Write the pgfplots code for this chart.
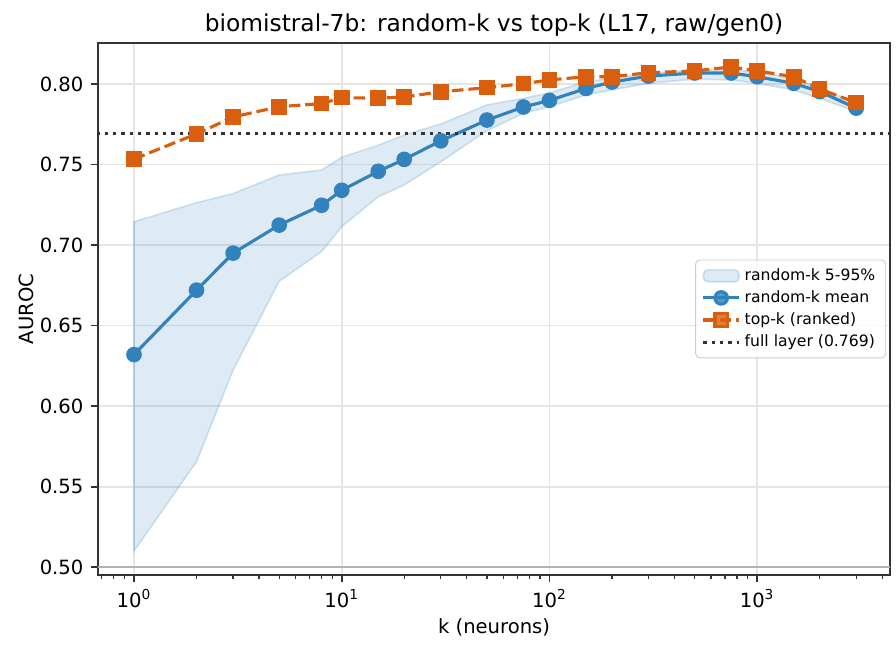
\documentclass[border=0pt]{standalone}
\usepackage{fontspec}
\setmainfont{DejaVu Sans}
\usepackage{pgfplots}
\pgfplotsset{compat=1.18}
\usepackage{pgfplotstable}

\definecolor{meanblue}{RGB}{49,130,189}
\definecolor{topkorange}{RGB}{217,95,14}
\definecolor{spine}{RGB}{51,51,51}
\definecolor{gridgray}{RGB}{229,229,229}

% k, random-k mean, ranked top-k
\pgfplotstableread{
k     mean    top
1     0.6320  0.7534
2     0.6720  0.7690
3     0.6950  0.7795
5     0.7124  0.7859
8     0.7247  0.7878
10    0.7340  0.7915
15    0.7458  0.7912
20    0.7532  0.7919
30    0.7647  0.7952
50    0.7776  0.7977
75    0.7857  0.8002
100   0.7898  0.8025
150   0.7972  0.8045
200   0.8012  0.8045
300   0.8049  0.8070
500   0.8068  0.8081
750   0.8068  0.8106
1000  0.8045  0.8081
1500  0.8004  0.8045
2000  0.7953  0.7969
3000  0.7850  0.7884
}\curves

\begin{document}
\begin{tikzpicture}
\begin{axis}[
  scale only axis,
  width=380.2pt, height=255.4pt,
  xmode=log, log basis x=10,
  xmin=0.671, xmax=4365,
  ymin=0.4952, ymax=0.8255,
  xtick={1,10,100,1000},
  minor xtick={0.7,0.8,0.9,2,3,4,5,6,7,8,9,20,30,40,50,60,70,80,90,
               200,300,400,500,600,700,800,900,2000,3000,4000},
  xticklabels={10\textsuperscript{0},10\textsuperscript{1},10\textsuperscript{2},10\textsuperscript{3}},
  ytick={0.50,0.55,0.60,0.65,0.70,0.75,0.80},
  yticklabel style={/pgf/number format/fixed,/pgf/number format/fixed zerofill,/pgf/number format/precision=2},
  /pgf/number format/assume math mode=true,
  tick label style={font=\fontsize{9.4}{11}\selectfont},
  tick align=outside, tick pos=left,
  major tick length=3.5pt, minor tick length=2pt,
  every tick/.style={spine, line width=0.8pt},
  minor tick style={spine, line width=0.6pt},
  axis line style={spine, line width=1pt},
  xmajorgrids, ymajorgrids, xminorgrids=false,
  major grid style={gridgray, line width=0.8pt},
  xlabel={k (neurons)}, ylabel={AUROC},
  label style={font=\fontsize{9.4}{11}\selectfont},
  xlabel style={yshift=2pt},
  ylabel style={yshift=-4pt},
  title={biomistral-7b: random-k vs top-k (L17, raw/gen0)},
  title style={font=\fontsize{11.2}{13}\selectfont, yshift=-6.2pt},
  legend style={
    at={(rel axis cs:0.995,0.5)}, anchor=east,
    font=\fontsize{7.5}{9}\selectfont,
    draw=gray!40, rounded corners=2pt, fill=white, fill opacity=0.8, text opacity=1,
    inner xsep=3pt, inner ysep=2pt, row sep=-0.6pt,
  },
  legend cell align=left,
  clip=true,
]
% chance level
\addplot[gray!60, line width=1pt, forget plot] coordinates {(0.5,0.5) (10000,0.5)};

% 5-95% band of the random subsets: 95th percentile left to right, then 5th back
\addplot[fill=meanblue, fill opacity=0.16, draw=meanblue, draw opacity=0.2, line width=0.8pt, area legend]
  coordinates {
    (1,0.7145) (2,0.7263) (3,0.7320) (5,0.7435) (8,0.7466) (10,0.7545)
    (15,0.7620) (20,0.7683) (30,0.7752) (50,0.7870) (75,0.7911) (100,0.7945)
    (150,0.8014) (200,0.8035) (300,0.8066) (500,0.8087) (750,0.8091)
    (1000,0.8073) (1500,0.8035) (2000,0.7977) (3000,0.7880)
    (3000,0.7828) (2000,0.7911) (1500,0.7963) (1000,0.8004) (750,0.8025)
    (500,0.8030) (300,0.8004) (200,0.7963) (150,0.7932) (100,0.7859)
    (75,0.7818) (50,0.7710) (30,0.7517) (20,0.7373) (15,0.7300) (10,0.7114)
    (8,0.6960) (5,0.6775) (3,0.6224) (2,0.5655) (1,0.5100)
  } -- cycle;
\addlegendentry{random-k 5-95\%}

% random-k mean
\addplot[meanblue, line width=1.5pt, mark=*, mark size=3pt, mark options={solid, fill=meanblue, draw=meanblue}]
  table[x=k, y=mean] {\curves};
\addlegendentry{random-k mean}

% ranked top-k
\addplot[topkorange, line width=1.5pt, dash pattern=on 5.5pt off 2.4pt, mark=square*, mark size=3pt, mark options={solid, fill=topkorange, draw=topkorange}]
  table[x=k, y=top] {\curves};
\addlegendentry{top-k (ranked)}

% full layer reference
\addplot[spine, line width=1.5pt, dash pattern=on 1.5pt off 2.5pt] coordinates {(0.5,0.769) (10000,0.769)};
\addlegendentry{full layer (0.769)}
\end{axis}
\pgfresetboundingbox
\path[use as bounding box] (-47.04pt,-36pt) rectangle (383.04pt,276pt);
\end{tikzpicture}
\end{document}
